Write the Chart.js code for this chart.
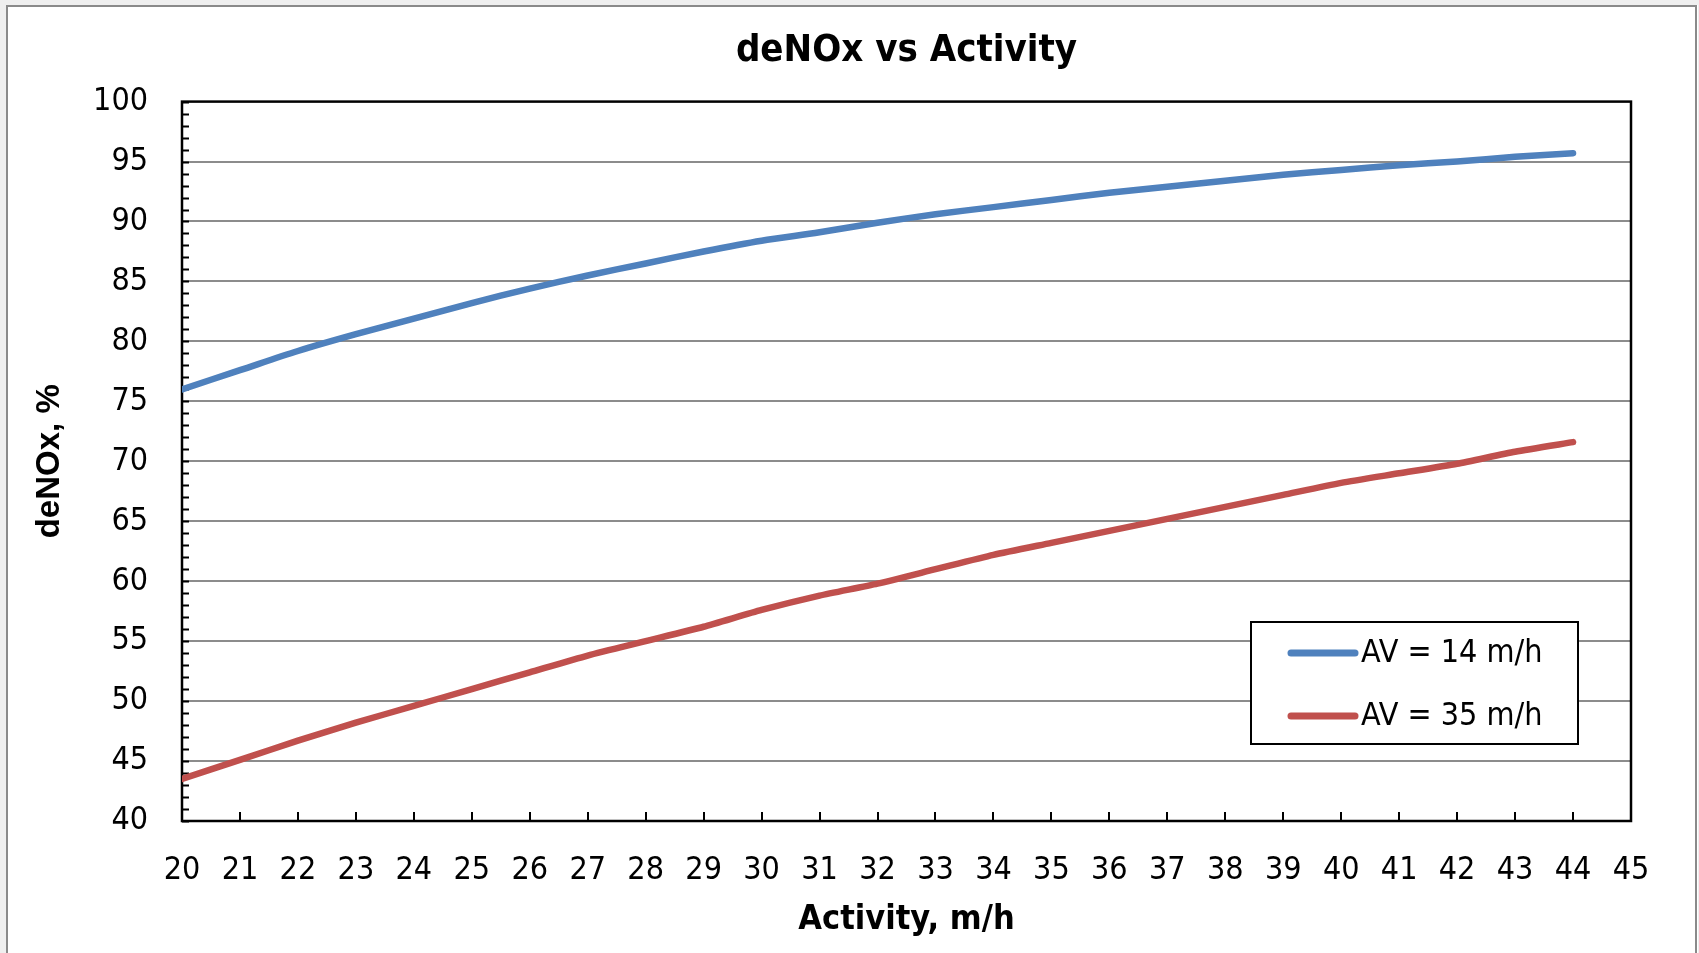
<!DOCTYPE html>
<html>
<head>
<meta charset="utf-8">
<title>deNOx vs Activity</title>
<script src="https://cdn.jsdelivr.net/npm/chart.js@4.4.0/dist/chart.umd.min.js"></script>
<style>
  html, body { margin: 0; padding: 0; background: #efefef; }
  #wrap { width: 1699px; height: 953px; position: relative; }
</style>
</head>
<body>
<div id="wrap"><canvas id="chart" width="1699" height="953"></canvas></div>
<script>
// activity, m/h
const activity = [20, 21, 22, 23, 24, 25, 26, 27, 28, 29, 30, 31, 32, 33, 34, 35, 36, 37, 38, 39, 40, 41, 42, 43, 44];

// deNOx, % for AV = 14 m/h
const deNOxAV14 = [76.0, 77.6, 79.2, 80.6, 81.9, 83.2, 84.4, 85.5, 86.5, 87.5, 88.4, 89.1, 89.9, 90.6,
  91.2, 91.8, 92.4, 92.9, 93.4, 93.9, 94.3, 94.7, 95.0, 95.4, 95.7];

// deNOx, % for AV = 35 m/h
const deNOxAV35 = [43.5, 45.1, 46.7, 48.2, 49.6, 51.0, 52.4, 53.8, 55.0, 56.2, 57.6, 58.8, 59.8, 61.0,
  62.2, 63.2, 64.2, 65.2, 66.2, 67.2, 68.2, 69.0, 69.8, 70.8, 71.6];

const seriesLabels = ['AV = 14 m/h', 'AV = 35 m/h'];
const seriesColors = ['#4f81bd', '#c0504d'];

const narrowFont = "'Liberation Sans Narrow', 'DejaVu Sans Condensed', sans-serif";

function toPoints(xs, ys) {
  return xs.map((x, i) => ({ x: x, y: ys[i] }));
}

// frame, ticks and legend in the Excel look
const excelLook = {
  id: 'excelLook',
  beforeDraw(chart) {
    const ctx = chart.ctx;
    ctx.save();
    ctx.fillStyle = '#ffffff';
    ctx.fillRect(7, 5, chart.width - 8, chart.height - 5);
    ctx.strokeStyle = '#8a8a8a';
    ctx.lineWidth = 2;
    ctx.strokeRect(7, 6, chart.width - 10, chart.height + 10);
    ctx.restore();
  },
  beforeDatasetsDraw(chart) {
    const ctx = chart.ctx;
    const a = chart.chartArea;
    const xs = chart.scales.x;
    const ys = chart.scales.y;
    ctx.save();
    ctx.strokeStyle = '#000000';
    ctx.lineWidth = 2;
    ctx.beginPath();
    // minor ticks on y, every 1 unit, pointing inside
    for (let v = ys.min; v <= ys.max; v++) {
      const py = Math.round(ys.getPixelForValue(v)) + 0.5;
      ctx.moveTo(a.left, py);
      ctx.lineTo(a.left + 7, py);
    }
    // x ticks pointing inside
    for (let v = xs.min; v <= xs.max; v++) {
      const px = Math.round(xs.getPixelForValue(v));
      ctx.moveTo(px, a.bottom);
      ctx.lineTo(px, a.bottom - 9);
    }
    ctx.stroke();
    ctx.lineWidth = 2.5;
    ctx.strokeRect(a.left, a.top, a.right - a.left, a.bottom - a.top);
    ctx.restore();
  },
  afterDraw(chart) {
    const ctx = chart.ctx;
    const a = chart.chartArea;
    const bx = a.right - 380, by = a.bottom - 199, bw = 327, bh = 122;
    ctx.save();
    ctx.fillStyle = '#ffffff';
    ctx.fillRect(bx, by, bw, bh);
    ctx.strokeStyle = '#000000';
    ctx.lineWidth = 2;
    ctx.strokeRect(bx, by, bw, bh);
    ctx.font = '32px ' + narrowFont;
    ctx.textBaseline = 'middle';
    ctx.fillStyle = '#000000';
    chart.data.datasets.forEach((ds, i) => {
      const ly = by + 31 + i * 63;
      ctx.strokeStyle = ds.borderColor;
      ctx.lineWidth = 7;
      ctx.lineCap = 'round';
      ctx.beginPath();
      ctx.moveTo(bx + 40, ly);
      ctx.lineTo(bx + 104, ly);
      ctx.stroke();
      ctx.fillText(ds.label, bx + 110, ly + 1);
    });
    ctx.restore();
  }
};

const ctx = document.getElementById('chart').getContext('2d');
new Chart(ctx, {
  type: 'line',
  data: {
    datasets: [
      {
        label: seriesLabels[0],
        data: toPoints(activity, deNOxAV14),
        borderColor: seriesColors[0],
        backgroundColor: seriesColors[0],
        borderWidth: 6.5,
        borderCapStyle: 'round',
        pointRadius: 0,
        tension: 0.3,
        fill: false
      },
      {
        label: seriesLabels[1],
        data: toPoints(activity, deNOxAV35),
        borderColor: seriesColors[1],
        backgroundColor: seriesColors[1],
        borderWidth: 6.5,
        borderCapStyle: 'round',
        pointRadius: 0,
        tension: 0.2,
        fill: false
      }
    ]
  },
  options: {
    responsive: false,
    animation: false,
    layout: { padding: { left: 0, right: 68, top: 0, bottom: 0 } },
    plugins: {
      legend: { display: false },
      tooltip: { enabled: false },
      title: {
        display: true,
        fullSize: false,
        text: 'deNOx vs Activity',
        color: '#000000',
        font: { family: narrowFont, size: 38, weight: 'bold', lineHeight: 1.2 },
        padding: { top: 28, bottom: 28 }
      }
    },
    scales: {
      x: {
        type: 'linear',
        min: 20,
        max: 45,
        afterFit(scale) { scale.height = 132; },
        grid: { display: false, drawTicks: false },
        border: { display: false },
        ticks: {
          stepSize: 1,
          padding: 30,
          color: '#000000',
          font: { family: narrowFont, size: 32 }
        },
        title: {
          display: true,
          text: 'Activity, m/h',
          color: '#000000',
          font: { family: narrowFont, size: 34, weight: 'bold' },
          padding: { top: 0, bottom: 12 }
        }
      },
      y: {
        min: 40,
        max: 100,
        afterFit(scale) { scale.width = 182; },
        grid: {
          drawTicks: false,
          color: (c) => (c.tick && (c.tick.value === 40 || c.tick.value === 100)) ? 'rgba(0,0,0,0)' : '#8c8c8c',
          lineWidth: 2
        },
        border: { display: false },
        ticks: {
          stepSize: 5,
          padding: 34,
          color: '#000000',
          font: { family: narrowFont, size: 32 }
        },
        title: {
          display: true,
          text: 'deNOx, %',
          color: '#000000',
          font: { family: "'Liberation Sans', Arial, sans-serif", size: 33, weight: 'bold' },
          padding: { top: 30, bottom: 0 }
        }
      }
    }
  },
  plugins: [excelLook]
});
</script>
</body>
</html>
